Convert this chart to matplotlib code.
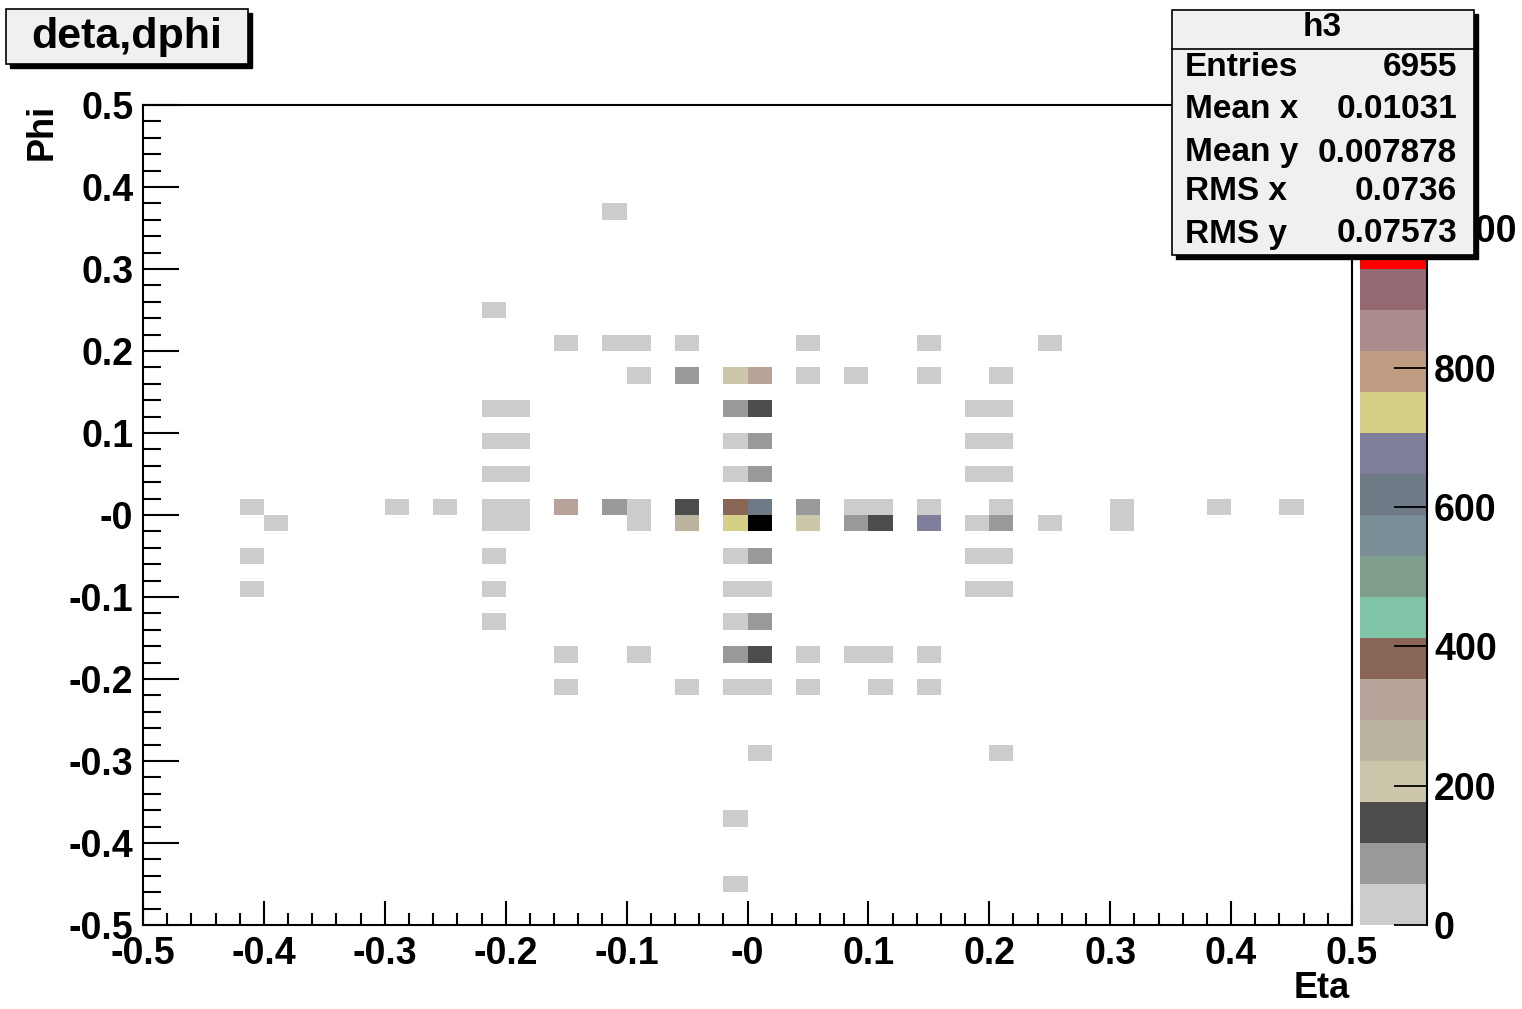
import numpy as np
import matplotlib
matplotlib.use('Agg')
import matplotlib.pyplot as plt
from matplotlib.colors import ListedColormap, BoundaryNorm
from matplotlib.patches import Rectangle
from matplotlib.ticker import AutoMinorLocator

plt.rcParams['font.family'] = ['Liberation Sans', 'DejaVu Sans']
plt.rcParams['font.weight'] = 'bold'

# filled cells of h3: bin centre in eta, bin centre in phi, content (row by row in phi)
eta = [
    -0.11,
    -0.21,
    -0.15, -0.11, -0.09, -0.05, 0.05, 0.15, 0.25,
    -0.09, -0.05, -0.01, 0.01, 0.05, 0.09, 0.15, 0.21,
    -0.21, -0.19, -0.01, 0.01, 0.19, 0.21,
    -0.21, -0.19, -0.01, 0.01, 0.19, 0.21,
    -0.21, -0.19, -0.01, 0.01, 0.19, 0.21,
    -0.41, -0.29, -0.25, -0.21, -0.19, -0.15, -0.11, -0.09, -0.05, -0.01,
    0.01, 0.05, 0.09, 0.11, 0.15, 0.21, 0.31, 0.39, 0.45,
    -0.39, -0.21, -0.19, -0.09, -0.05, -0.01, 0.01, 0.05, 0.09, 0.11,
    0.15, 0.19, 0.21, 0.25, 0.31,
    -0.41, -0.21, -0.01, 0.01, 0.19, 0.21,
    -0.41, -0.21, -0.01, 0.01, 0.19, 0.21,
    -0.21, -0.01, 0.01,
    -0.15, -0.09, -0.01, 0.01, 0.05, 0.09, 0.11, 0.15,
    -0.15, -0.05, -0.01, 0.01, 0.05, 0.11, 0.15,
    0.01, 0.21,
    -0.01,
    -0.01,
]
phi = (
    [0.37]
    + [0.25]
    + [0.21] * 7
    + [0.17] * 8
    + [0.13] * 6
    + [0.09] * 6
    + [0.05] * 6
    + [0.01] * 19
    + [-0.01] * 15
    + [-0.05] * 6
    + [-0.09] * 6
    + [-0.13] * 3
    + [-0.17] * 8
    + [-0.21] * 7
    + [-0.29] * 2
    + [-0.37]
    + [-0.45]
)
counts = [
    8,
    12,
    9, 14, 11, 16, 10, 13, 6,
    15, 72, 196, 305, 18, 9, 17, 11,
    21, 19, 84, 138, 20, 23,
    18, 22, 41, 77, 17, 24,
    20, 16, 44, 81, 19, 21,
    7, 9, 11, 32, 28, 310, 70, 35, 142, 372,
    612, 86, 38, 33, 30, 27, 12, 6, 8,
    8, 31, 29, 37, 248, 724, 1177, 201, 79, 151,
    668, 36, 68, 14, 13,
    10, 19, 40, 83, 22, 18,
    9, 17, 39, 45, 21, 20,
    16, 47, 74,
    12, 10, 89, 133, 15, 14, 13, 11,
    11, 9, 26, 30, 12, 10, 13,
    7, 6,
    5,
    4,
]

ticks = [-0.5, -0.4, -0.3, -0.2, -0.1, 0.0, 0.1, 0.2, 0.3, 0.4, 0.5]
tick_labels = ['-0.5', '-0.4', '-0.3', '-0.2', '-0.1', '-0', '0.1', '0.2', '0.3', '0.4', '0.5']
z_ticks = [0, 200, 400, 600, 800, 1000]

stat_names = ['Entries', 'Mean x', 'Mean y', 'RMS x', 'RMS y']
stat_values = ['6955', '0.01031', '0.007878', '0.0736', '0.07573']

# old ROOT default palette, 20 contours
palette = ['#cccccc', '#999999', '#4c4c4c', '#ccc6aa', '#bbb59f', '#b8a39a',
           '#8a6656', '#80c4a7', '#7f9e8b', '#7a8e97', '#6e7b87', '#7f7f9c',
           '#d5d086', '#c09c82', '#ad8c8e', '#956971', '#ff0000', '#ff00ff',
           '#00c000', '#000000']

H, xe, ye = np.histogram2d(eta, phi, bins=50, range=[[-0.5, 0.5], [-0.5, 0.5]],
                           weights=counts)
H = np.ma.masked_equal(H, 0)

zmax = H.max()
levels = np.linspace(0, zmax, len(palette) + 1)
cmap = ListedColormap(palette)
cmap.set_over(palette[-1])
cmap.set_bad('white', 0)
norm = BoundaryNorm(levels, cmap.N)

W, Hpx = 1522, 1009
fig = plt.figure(figsize=(W / 100, Hpx / 100), dpi=100)

def fx(px):
    return px / W

def fy(py):
    return 1 - py / Hpx

ax = fig.add_axes([fx(143), fy(925), fx(1352) - fx(143), fy(105) - fy(925)])
mesh = ax.pcolormesh(xe, ye, H.T, cmap=cmap, norm=norm)
ax.set_xlim(-0.5, 0.5)
ax.set_ylim(-0.5, 0.5)
ax.set_xticks(ticks)
ax.set_xticklabels(tick_labels)
ax.set_yticks(ticks)
ax.set_yticklabels(tick_labels)
ax.xaxis.set_minor_locator(AutoMinorLocator(5))
ax.yaxis.set_minor_locator(AutoMinorLocator(5))
ax.tick_params(axis='x', which='major', direction='in', length=17, width=1.5,
               labelsize=27, pad=8, top=False)
ax.tick_params(axis='x', which='minor', direction='in', length=8.5, width=1.5, top=False)
ax.tick_params(axis='y', which='major', direction='in', length=26, width=1.5,
               labelsize=27, pad=7, right=False)
ax.tick_params(axis='y', which='minor', direction='in', length=13, width=1.5, right=False)
for s in ax.spines.values():
    s.set_linewidth(1.5)

fig.text(fx(1350), fy(989), 'Eta', ha='right', va='center', fontsize=26)
fig.text(fx(42), fy(104), 'Phi', ha='center', va='top', rotation=90, fontsize=26)

# palette axis
cax = fig.add_axes([fx(1360), fy(925), fx(1427) - fx(1360), fy(105) - fy(925)])
cb = fig.colorbar(mesh, cax=cax, ticks=z_ticks, extend='neither')
cb.outline.set_visible(False)
cax.plot([1, 1], [0, 1], transform=cax.transAxes, color='black', lw=1.5, clip_on=False)
cax.tick_params(axis='y', direction='in', length=24, width=1.3, labelsize=27, pad=5)
cax.minorticks_off()

# title box
fig.add_artist(Rectangle((fx(10), fy(68)), fx(248) - fx(6), fy(9) - fy(64),
                         transform=fig.transFigure, facecolor='black', edgecolor='black', zorder=5))
fig.add_artist(Rectangle((fx(6), fy(64)), fx(248) - fx(6), fy(9) - fy(64),
                         transform=fig.transFigure, facecolor='#f0f0f0', edgecolor='black',
                         lw=1.2, zorder=6))
fig.text(fx(127), fy(37), 'deta,dphi', ha='center', va='center', fontsize=31, zorder=7)

# stats box
fig.add_artist(Rectangle((fx(1176), fy(259)), fx(1474) - fx(1172), fy(10) - fy(255),
                         transform=fig.transFigure, facecolor='black', edgecolor='black', zorder=5))
fig.add_artist(Rectangle((fx(1172), fy(255)), fx(1474) - fx(1172), fy(10) - fy(255),
                         transform=fig.transFigure, facecolor='#f0f0f0', edgecolor='black',
                         lw=1.2, zorder=6))
fig.add_artist(plt.Line2D([fx(1172), fx(1474)], [fy(49), fy(49)], transform=fig.transFigure,
                          color='black', lw=1.2, zorder=7))
fig.text(fx(1322), fy(28), 'h3', ha='center', va='center', fontsize=24, zorder=7)
rows_y = [68, 109, 153, 191, 234]
for name, val, y in zip(stat_names, stat_values, rows_y):
    fig.text(fx(1185), fy(y), name, ha='left', va='center', fontsize=24, zorder=7)
    fig.text(fx(1457), fy(y), val, ha='right', va='center', fontsize=24, zorder=7)

fig.savefig('out.png', dpi=100)
